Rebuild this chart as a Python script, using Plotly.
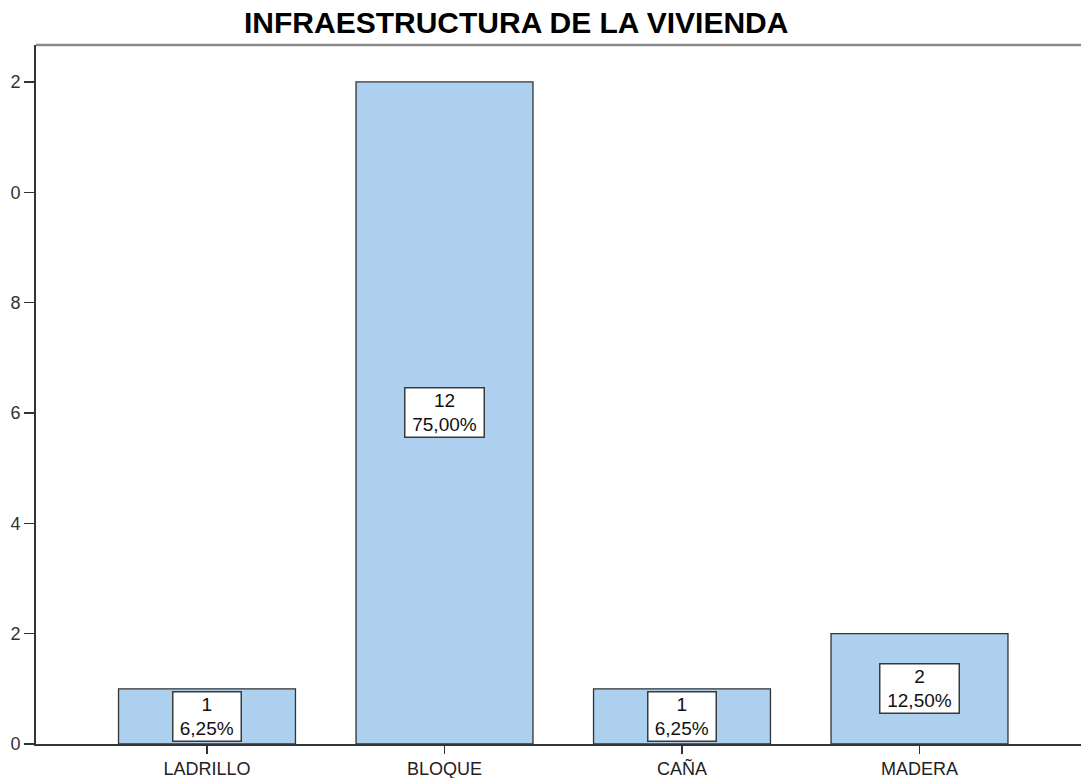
import plotly.graph_objects as go

categories = ["LADRILLO", "BLOQUE", "CAÑA", "MADERA"]
counts = [1, 12, 1, 2]
percents = ["6,25%", "75,00%", "6,25%", "12,50%"]
y_tickvals = [0, 2, 4, 6, 8, 10, 12]
y_ticktext = ["0", "2", "4", "6", "8", "0", "2"]

W, H = 1081, 778
ml, mr, mt, mb = 36, 0, 45, 778 - 744
pw, ph = W - ml - mr, H - mt - mb

FONT = "Arial, Liberation Sans, sans-serif"

fig = go.Figure()
fig.add_trace(go.Bar(
    x=list(range(len(categories))),
    y=counts,
    width=0.745,
    marker=dict(color="#acd0ee", line=dict(color="#333333", width=1.3)),
    hoverinfo="skip",
))

for i, (c, p) in enumerate(zip(counts, percents)):
    fig.add_annotation(
        x=i, y=c / 2, xref="x", yref="y",
        text=f"{c}<br>{p}",
        showarrow=False,
        font=dict(family=FONT, size=19, color="#111111"),
        bgcolor="white", bordercolor="#3a3a3a", borderwidth=1.5, borderpad=3,
        height=42, width=11.5 * len(p) + 3,
        align="center",
    )

fig.add_annotation(
    x=(516 - ml) / pw, y=(H - 22.5 - mb) / ph,
    xref="paper", yref="paper",
    text="<b>INFRAESTRUCTURA DE LA VIVIENDA</b>", showarrow=False,
    font=dict(family=FONT, size=30, color="#000000"),
    xanchor="center", yanchor="middle",
)

fig.add_shape(type="line", xref="paper", yref="paper", x0=0, x1=1, y0=1, y1=1,
              line=dict(color="#8a8a8a", width=2.5))

fig.update_layout(
    width=W, height=H,
    margin=dict(l=ml, r=mr, t=mt, b=mb, autoexpand=False),
    paper_bgcolor="white", plot_bgcolor="white",
    showlegend=False,
    font=dict(family=FONT, color="#222222"),
    xaxis=dict(
        range=[-0.72, 3.68],
        tickvals=list(range(len(categories))), ticktext=categories,
        ticks="outside", ticklen=8, tickcolor="#333333", tickwidth=1.5,
        showline=True, linecolor="#333333", linewidth=1.5,
        showgrid=False, zeroline=False,
        tickfont=dict(size=18, color="#222222"),
    ),
    yaxis=dict(
        range=[0, 12.67],
        tickvals=y_tickvals, ticktext=y_ticktext,
        ticks="outside", ticklen=10, tickcolor="#333333", tickwidth=1.5,
        showline=True, linecolor="#333333", linewidth=2,
        showgrid=False, zeroline=False,
        tickfont=dict(size=18, color="#333333"),
    ),
    bargap=0,
)

fig.write_html(
    "out.html",
    config={"displayModeBar": False, "staticPlot": True},
    post_script="document.body.style.margin='0';document.documentElement.style.overflow='hidden';",
)
